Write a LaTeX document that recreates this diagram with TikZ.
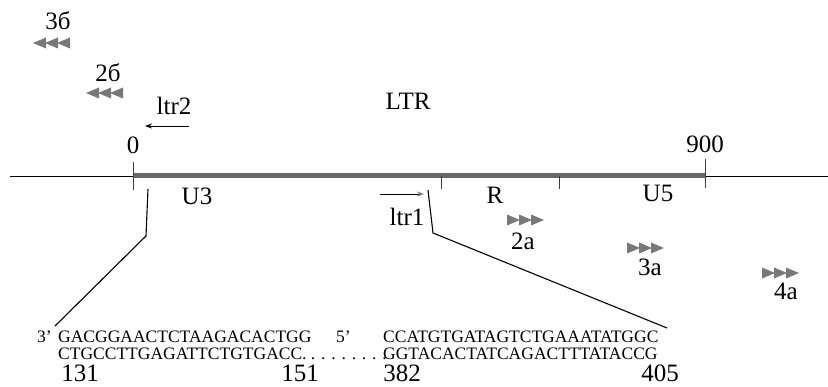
\documentclass[tikz,border=0pt]{standalone}
\usepackage{fontspec}
\setmainfont{Liberation Serif}
\usetikzlibrary{arrows.meta}
\definecolor{bargray}{RGB}{105,105,105}
\definecolor{headgray}{RGB}{120,120,120}
\tikzset{
  lbl/.style={anchor=base, inner sep=0pt, font=\fontsize{25}{28}\selectfont},
  seq/.style={anchor=base west, inner sep=0pt, font=\fontsize{17.5}{20}\selectfont},
  num/.style={anchor=base, inner sep=0pt, font=\fontsize{25}{28}\selectfont},
  tickline/.style={line width=0.9pt, black!75},
  lead/.style={line width=1.1pt, black},
  primer/.style={line width=0.9pt, -{Stealth[length=7pt,width=5pt]}},
  headR/.pic={
    \foreach \k in {0,12,24}
      \fill[headgray] (\k,-5.5) -- (\k+13,0) -- (\k,5.5) -- cycle;
  },
  headL/.pic={
    \foreach \k in {0,12,24}
      \fill[headgray] (-\k,-5.5) -- (-\k-13,0) -- (-\k,5.5) -- cycle;
  },
}
\begin{document}
\begin{tikzpicture}[x=1pt,y=-1pt]
\useasboundingbox (0,0) rectangle (828,387);

% axis and LTR body
\coordinate (axL) at (10,176);
\coordinate (axR) at (828,176);
\coordinate (p0) at (133,176);
\coordinate (p900) at (705,176);
\draw[line width=0.8pt] (axL) -- (axR);
\draw[line width=5pt, bargray] (p0) -- (p900);

% ticks
\draw[tickline] (133,162) -- (133,190);
\draw[tickline] (705,159) -- (705,188);
\draw[tickline] (441,176) -- (441,189);
\draw[tickline] (559,176) -- (559,189);

% labels above and below the axis
\node[lbl] (zero) at (133,154) {0};
\node[lbl] (nine) at (705,153) {900};
\node[lbl] (ltr) at (408,110) {LTR};
\node[lbl] (u3) at (197,205) {U3};
\node[lbl] (r) at (495,204) {R};
\node[lbl] (u5) at (658,202) {U5};

% primers ltr2 and ltr1
\node[lbl] (ltr2) at (174,115) {ltr2};
\coordinate (l2a) at (189,126);
\coordinate (l2b) at (145,126);
\draw[primer] (l2a) -- (l2b);
\node[lbl] (ltr1) at (407,226) {ltr1};
\coordinate (l1a) at (380,194);
\coordinate (l1b) at (424,194);
\draw[primer, -{Stealth[length=7pt,width=5pt,color=headgray]}] (l1a) -- (l1b);

% primer groups
\node[lbl] (b3) at (58,30) {3б};
\pic at (70,43) {headL};
\node[lbl] (b2) at (108,82) {2б};
\pic at (123,93) {headL};
\node[lbl] (a2) at (523,250) {2a};
\pic at (507,220) {headR};
\node[lbl] (a3) at (650,276) {3a};
\pic at (627,248) {headR};
\node[lbl] (a4) at (786,300) {4a};
\pic at (762,273) {headR};

% sequences
\node[seq] (s3) at (37,343) {3'};
\node[seq] (top1) at (58,343) {GACGGAACTCTAAGACACTGG};
\node[seq] (s5) at (336,343) {5'};
\node[seq] (top2) at (383,343) {CCATGTGATAGTCTGAAATATGGC};
\node[seq] (bot1) at (58,360) {CTGCCTTGAGATTCTGTGACC. . . . . . . . .};
\node[seq] (bot2) at (383,360) {GGTACACTATCAGACTTTATACCG};
\node[num] (n131) at (80,382) {131};
\node[num] (n151) at (300,382) {151};
\node[num] (n382) at (402,382) {382};
\node[num] (n405) at (660,382) {405};

% lead lines to the sequences
\coordinate (la) at (148,189);
\coordinate (lb) at (146,236);
\coordinate (lc) at (55,326);
\draw[lead] (la) -- (lb) -- (lc);
\coordinate (ra) at (428,190);
\coordinate (rb) at (433,233);
\coordinate (rc) at (667,328);
\draw[lead] (ra) -- (rb) -- (rc);
\end{tikzpicture}
\end{document}
